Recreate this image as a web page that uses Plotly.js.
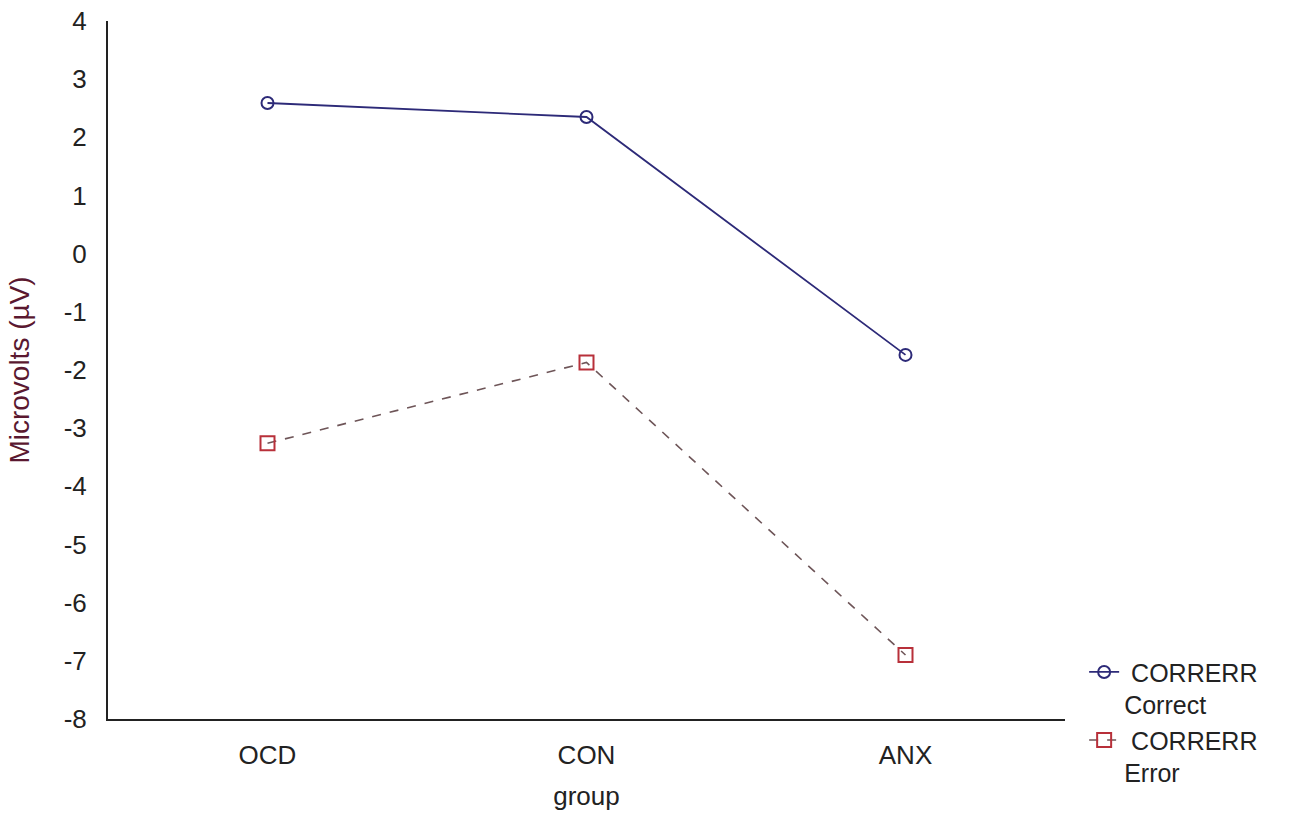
<!DOCTYPE html>
<html>
<head>
<meta charset="utf-8">
<script src="https://cdn.plot.ly/plotly-3.0.1.min.js"></script>
<style>html,body{margin:0;padding:0;background:#fff;}#chart{width:1297px;height:815px;}</style>
</head>
<body>
<div id="chart"></div>
<script>
const groups = ["OCD", "CON", "ANX"];
const correctValues = [2.59, 2.35, -1.74];
const errorValues = [-3.26, -1.87, -6.90];
const yTicks = [-8, -7, -6, -5, -4, -3, -2, -1, 0, 1, 2, 3, 4];
const seriesNames = ["\u00a0CORRERR<br>Correct", "\u00a0CORRERR<br>Error"];

const FONT = "Liberation Sans, Arial, sans-serif";

const traces = [
  {
    x: groups, y: correctValues, name: seriesNames[0],
    type: "scatter", mode: "lines+markers",
    line: {color: "#2d2a78", width: 1.8},
    marker: {symbol: "circle-open", size: 12, color: "#2d2a78", line: {width: 2, color: "#2d2a78"}}
  },
  {
    x: groups, y: errorValues, name: seriesNames[1],
    type: "scatter", mode: "lines+markers",
    line: {color: "#6e5558", width: 1.6, dash: "dash"},
    marker: {symbol: "square-open", size: 14, color: "#b8303a", line: {width: 2, color: "#b8303a"}}
  }
];

const layout = {
  width: 1297, height: 815,
  margin: {l: 108, r: 232, t: 21, b: 96},
  paper_bgcolor: "#ffffff", plot_bgcolor: "#ffffff",
  font: {family: FONT, size: 26, color: "#222"},
  showlegend: true,
  legend: {
    x: 1.02, y: 0.1, xanchor: "left", yanchor: "top",
    valign: "top", font: {family: FONT, size: 25, color: "#222"},
    bgcolor: "rgba(0,0,0,0)", tracegroupgap: 0, itemwidth: 30
  },
  xaxis: {
    type: "category", range: [-0.5, 2.5],
    showline: true, linecolor: "#222", linewidth: 2,
    showgrid: false, zeroline: false, ticks: "",
    ticklabelstandoff: 12,
    tickfont: {family: FONT, size: 26, color: "#222"},
    title: {text: "group", font: {family: FONT, size: 26, color: "#222"}, standoff: 18}
  },
  yaxis: {
    range: [-8, 4], tickmode: "array", tickvals: yTicks, ticktext: yTicks.map(String),
    showline: true, linecolor: "#222", linewidth: 2,
    showgrid: false, zeroline: false, ticks: "",
    ticklabelstandoff: 14,
    tickfont: {family: FONT, size: 26, color: "#222"},
    title: {text: "Microvolts (\u00b5V)", font: {family: FONT, size: 28, color: "#5a1830"}, standoff: 26}
  }
};

Plotly.newPlot("chart", traces, layout, {displayModeBar: false, staticPlot: true});
</script>
</body>
</html>
